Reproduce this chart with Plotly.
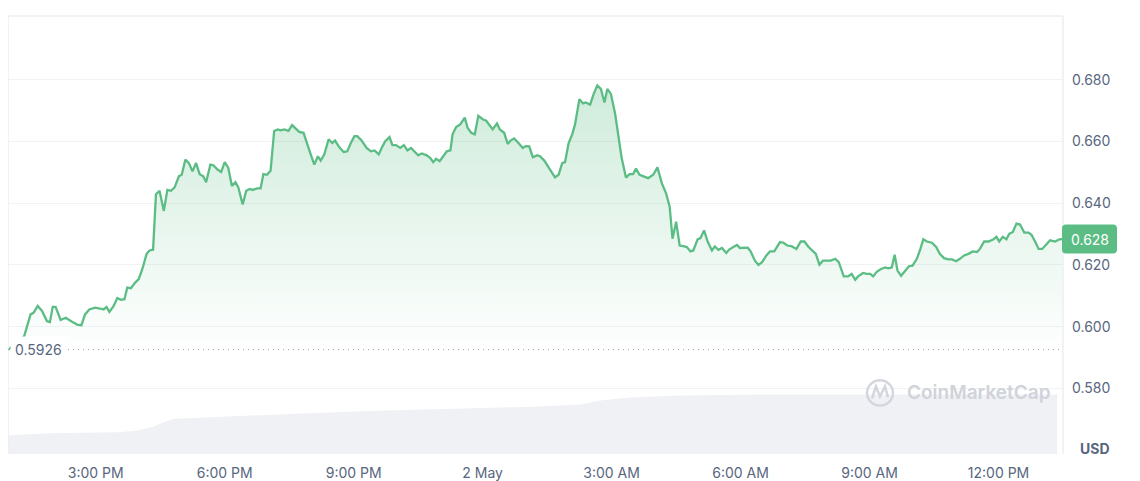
import pandas as pd
import plotly.graph_objects as go

# ---------------- data ----------------
BASE = "2024-05-01 12:00"   # minutes below are counted from this moment

price_minutes = [
    58, 80, 89, 93, 99, 105, 112, 116, 120, 124,
    131, 138, 147, 154, 160, 165, 171, 179, 186, 191,
    195, 199, 205, 210, 215, 220, 224, 229, 235, 240,
    245, 251, 255, 260, 264, 269, 275, 280, 285, 290,
    296, 300, 305, 310, 315, 320, 325, 330, 334, 340,
    344, 350, 355, 360, 365, 370, 375, 379, 385, 390,
    395, 399, 405, 410, 414, 419, 424, 429, 434, 438,
    443, 449, 454, 458, 464, 470, 475, 480, 485, 490,
    494, 499, 505, 510, 514, 520, 526, 531, 536, 541,
    545, 551, 558, 564, 569, 575, 579, 584, 590, 594,
    599, 605, 610, 615, 620, 626, 630, 635, 642, 647,
    651, 655, 660, 665, 670, 675, 678, 683, 689, 695,
    699, 704, 709, 714, 720, 725, 730, 734, 740, 744,
    750, 755, 759, 764, 770, 776, 780, 785, 790, 796,
    800, 806, 812, 817, 821, 826, 831, 835, 840, 845,
    849, 855, 860, 864, 870, 875, 880, 885, 890, 894,
    899, 905, 910, 914, 920, 925, 930, 934, 939, 945,
    951, 958, 964, 970, 976, 981, 985, 990, 995, 1000,
    1005, 1010, 1014, 1020, 1024, 1029, 1034, 1040, 1044, 1049,
    1054, 1060, 1064, 1070, 1075, 1079, 1085, 1090, 1094, 1100,
    1105, 1110, 1116, 1121, 1127, 1135, 1140, 1145, 1151, 1158,
    1164, 1169, 1175, 1182, 1185, 1190, 1195, 1200, 1206, 1212,
    1217, 1224, 1230, 1235, 1240, 1244, 1251, 1256, 1261, 1265,
    1270, 1276, 1282, 1286, 1291, 1295, 1299, 1304, 1310, 1315,
    1320, 1326, 1331, 1335, 1340, 1347, 1353, 1358, 1364, 1370,
    1375, 1381, 1386, 1392, 1398, 1404, 1410, 1414, 1420, 1426,
    1433, 1437, 1441, 1446, 1451, 1455, 1460, 1465, 1470, 1476,
    1482, 1486, 1491, 1496, 1501, 1507, 1512, 1519, 1525, 1529,
]

prices = [
    0.5926, 0.5969, 0.6040, 0.6045, 0.6067, 0.6051, 0.6018, 0.6015, 0.6065, 0.6064,
    0.6022, 0.6029, 0.6016, 0.6007, 0.6005, 0.6040, 0.6056, 0.6062, 0.6059, 0.6056,
    0.6064, 0.6048, 0.6067, 0.6093, 0.6087, 0.6089, 0.6127, 0.6125, 0.6143, 0.6154,
    0.6187, 0.6236, 0.6247, 0.6249, 0.6429, 0.6440, 0.6375, 0.6443, 0.6440, 0.6451,
    0.6487, 0.6492, 0.6541, 0.6530, 0.6503, 0.6530, 0.6494, 0.6487, 0.6468, 0.6525,
    0.6523, 0.6509, 0.6501, 0.6533, 0.6514, 0.6456, 0.6468, 0.6451, 0.6396, 0.6440,
    0.6446, 0.6443, 0.6448, 0.6448, 0.6494, 0.6492, 0.6505, 0.6634, 0.6639, 0.6636,
    0.6639, 0.6634, 0.6653, 0.6644, 0.6631, 0.6628, 0.6590, 0.6558, 0.6525, 0.6552,
    0.6538, 0.6558, 0.6607, 0.6595, 0.6603, 0.6581, 0.6566, 0.6568, 0.6595, 0.6617,
    0.6617, 0.6603, 0.6579, 0.6568, 0.6571, 0.6558, 0.6579, 0.6601, 0.6614, 0.6588,
    0.6588, 0.6579, 0.6588, 0.6571, 0.6579, 0.6566, 0.6555, 0.6561, 0.6555, 0.6546,
    0.6533, 0.6544, 0.6536, 0.6552, 0.6568, 0.6571, 0.6623, 0.6647, 0.6656, 0.6677,
    0.6644, 0.6628, 0.6623, 0.6683, 0.6672, 0.6667, 0.6650, 0.6639, 0.6658, 0.6639,
    0.6628, 0.6592, 0.6603, 0.6610, 0.6595, 0.6579, 0.6585, 0.6584, 0.6549, 0.6555,
    0.6552, 0.6538, 0.6516, 0.6497, 0.6484, 0.6492, 0.6530, 0.6533, 0.6595, 0.6623,
    0.6656, 0.6737, 0.6723, 0.6726, 0.6719, 0.6754, 0.6781, 0.6770, 0.6726, 0.6770,
    0.6754, 0.6688, 0.6601, 0.6546, 0.6483, 0.6494, 0.6494, 0.6512, 0.6492, 0.6487,
    0.6481, 0.6492, 0.6516, 0.6465, 0.6432, 0.6389, 0.6285, 0.6340, 0.6263, 0.6261,
    0.6258, 0.6244, 0.6247, 0.6283, 0.6287, 0.6312, 0.6276, 0.6247, 0.6260, 0.6249,
    0.6255, 0.6239, 0.6250, 0.6258, 0.6265, 0.6255, 0.6256, 0.6256, 0.6244, 0.6214,
    0.6200, 0.6209, 0.6231, 0.6244, 0.6244, 0.6274, 0.6272, 0.6263, 0.6261, 0.6252,
    0.6276, 0.6276, 0.6258, 0.6244, 0.6236, 0.6201, 0.6214, 0.6214, 0.6214, 0.6220,
    0.6209, 0.6163, 0.6163, 0.6171, 0.6152, 0.6163, 0.6174, 0.6171, 0.6171, 0.6163,
    0.6178, 0.6187, 0.6192, 0.6189, 0.6192, 0.6233, 0.6182, 0.6165, 0.6182, 0.6196,
    0.6198, 0.6220, 0.6252, 0.6283, 0.6276, 0.6272, 0.6258, 0.6236, 0.6222, 0.6218,
    0.6218, 0.6212, 0.6220, 0.6231, 0.6236, 0.6244, 0.6242, 0.6252, 0.6276, 0.6276,
    0.6283, 0.6291, 0.6276, 0.6291, 0.6283, 0.6301, 0.6307, 0.6334, 0.6331, 0.6305,
    0.6305, 0.6298, 0.6276, 0.6252, 0.6252, 0.6269, 0.6280, 0.6276, 0.6283, 0.6284,
]

# volume (millions USD)
vol_minutes = [56, 116, 210, 235, 256, 270, 288, 326, 372, 428, 479,
               559, 665, 744, 800, 856, 884, 926, 996, 1107, 1522]
vol_values = [37, 41, 43, 46, 52, 60, 70, 72, 75, 79, 81,
              85, 89, 92, 94, 98, 106, 112, 116, 118, 118]

x_range_minutes = [57.5, 1530.0]
y_tick_values = [0.58, 0.60, 0.62, 0.64, 0.66, 0.68]
y_range = [0.55879, 0.70062]
x_tick_minutes = [180, 360, 540, 720, 900, 1080, 1260, 1440]
x_tick_labels = ["3:00 PM", "6:00 PM", "9:00 PM", "2 May",
                 "3:00 AM", "6:00 AM", "9:00 AM", "12:00 PM"]

assert len(price_minutes) == len(prices)

# ---------------- build ----------------
base = pd.Timestamp(BASE)
to_t = lambda m: base + pd.Timedelta(minutes=m)
times = [to_t(m) for m in price_minutes]
vtimes = [to_t(m) for m in vol_minutes]

GREEN = "#5bbd84"
GREY_TXT = "#58667e"
BORDER = "#eceef1"
FONT = "Inter, 'Noto Sans', sans-serif"

# plot-area geometry helpers for decorations (page has an 8px body margin)
PX0, PX1, PY0, PY1 = 8, 1063, 16, 450
px = lambda v: (v - PX0) / (PX1 - PX0)
py = lambda v: (PY1 - v) / (PY1 - PY0)

fig = go.Figure()

fig.add_trace(go.Scatter(
    x=vtimes, y=vol_values, yaxis="y2", mode="lines",
    line=dict(width=0, color="#eef0f4"), fill="tozeroy",
    fillcolor="#eff1f5", hoverinfo="skip", showlegend=False,
))

fig.add_trace(go.Scatter(
    x=times, y=prices, mode="lines",
    line=dict(color=GREEN, width=2.3),
    fill="tozeroy",
    fillgradient=dict(
        type="vertical",
        colorscale=[[0, "rgba(91,189,132,0)"], [1, "rgba(91,189,132,0.3)"]],
        start=0.592, stop=0.68,
    ),
    hoverinfo="skip", showlegend=False,
))

shapes = [
    dict(type="line", xref="paper", yref="paper", x0=0, x1=0, y0=0, y1=1,
         line=dict(color=BORDER, width=1.5)),
    dict(type="line", xref="paper", yref="paper", x0=1, x1=1, y0=0, y1=1,
         line=dict(color=BORDER, width=1.5)),
    dict(type="line", xref="paper", yref="paper", x0=0, x1=1, y0=1, y1=1,
         line=dict(color=BORDER, width=1.5)),
    # open-price dotted line
    dict(type="line", xref="paper", yref="y", x0=0, x1=1,
         y0=prices[0], y1=prices[0],
         line=dict(color="#9ba3af", width=1, dash="1px,4px")),
    # last price label box (rounded)
    dict(type="path", xref="paper", yref="y", xsizemode="pixel", ysizemode="pixel",
         xanchor=1, yanchor=prices[-1],
         path="M 3,14.5 L 50,14.5 Q 54,14.5 54,10.5 L 54,-10.5 Q 54,-14.5 50,-14.5 "
              "L 3,-14.5 Q -1,-14.5 -1,-10.5 L -1,10.5 Q -1,14.5 3,14.5 Z",
         fillcolor=GREEN, line=dict(width=0), layer="above"),
    # watermark logo
    dict(type="circle", xref="paper", yref="paper",
         x0=px(867), x1=px(893), y0=py(402), y1=py(377),
         line=dict(color="#d3d6dd", width=2.5), layer="above"),
    dict(type="path", xref="paper", yref="paper",
         path="M {:.4f},{:.4f} L {:.4f},{:.4f} L {:.4f},{:.4f} L {:.4f},{:.4f} L {:.4f},{:.4f}".format(
             px(872), py(395), px(876), py(383), px(880), py(393),
             px(885), py(383), px(888), py(394)),
         line=dict(color="#d3d6dd", width=2.5), layer="above"),
]

annotations = [
    dict(xref="paper", yref="y", x=0, y=prices[0], xanchor="left", yanchor="middle",
         xshift=2, text=f"{prices[0]:.4f}", showarrow=False,
         font=dict(family=FONT, size=14, color=GREY_TXT),
         bgcolor="white", borderpad=4),
    dict(xref="paper", yref="y", x=1, y=prices[-1], xanchor="center", yanchor="middle",
         xshift=26.5, text=f"{prices[-1]:.3f}", showarrow=False,
         font=dict(family=FONT, size=14, color="white")),
    dict(xref="paper", yref="paper", x=px(905), y=py(389),
         xanchor="left", yanchor="middle", text="CoinMarketCap", showarrow=False,
         font=dict(family=FONT, size=19, color="#d0d3da", weight=600)),
    dict(xref="paper", yref="paper", x=1, y=0, xanchor="left", yanchor="middle",
         xshift=15, yshift=6, text="<b>USD</b>", showarrow=False,
         font=dict(family=FONT, size=14, color=GREY_TXT)),
]

fig.update_layout(
    width=1132, height=473,
    margin=dict(l=0, r=77, t=8, b=23),
    paper_bgcolor="white", plot_bgcolor="white",
    showlegend=False,
    font=dict(family=FONT, size=14, color=GREY_TXT),
    xaxis=dict(
        type="date", range=[to_t(x_range_minutes[0]), to_t(x_range_minutes[1])],
        tickvals=[to_t(m) for m in x_tick_minutes], ticktext=x_tick_labels,
        showgrid=False, zeroline=False, showline=False, ticks="",
        tickfont=dict(family=FONT, size=14, color=GREY_TXT), fixedrange=True,
        ticklabelstandoff=9,
    ),
    yaxis=dict(
        side="right", range=y_range, tickvals=y_tick_values,
        ticktext=[f"{v:.3f}" for v in y_tick_values],
        showgrid=True, gridcolor="#f1f2f4", gridwidth=1, zeroline=False,
        showline=False, ticks="", ticklabelstandoff=8,
        tickfont=dict(family=FONT, size=14, color=GREY_TXT), fixedrange=True,
    ),
    yaxis2=dict(overlaying="y", range=[0, 868], visible=False, fixedrange=True),
    shapes=shapes,
    annotations=annotations,
)

fig.write_html("out.html", config={"displayModeBar": False})
